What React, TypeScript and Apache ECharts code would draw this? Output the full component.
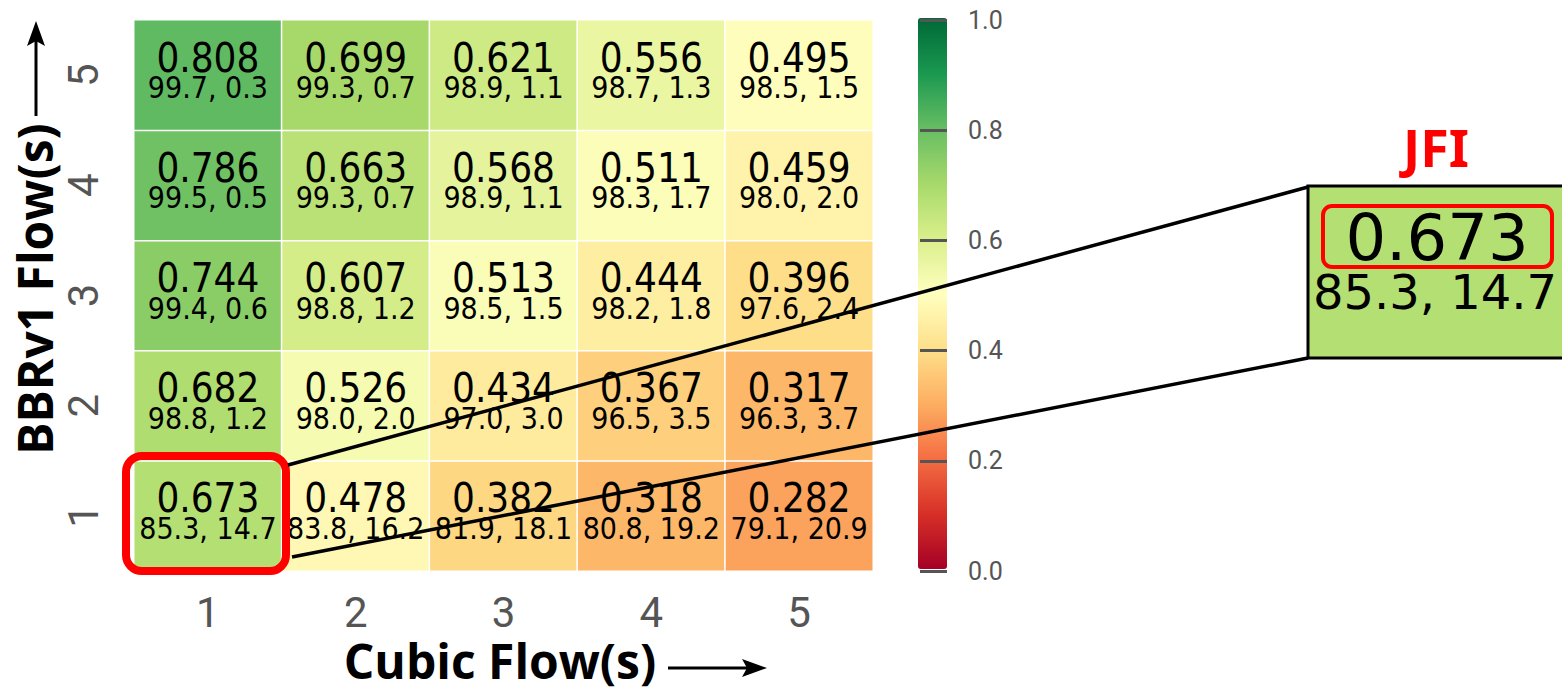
import React, { useEffect, useRef } from "react";
import * as echarts from "echarts";

const cubicFlows = ["1", "2", "3", "4", "5"];
const bbrFlows = ["1", "2", "3", "4", "5"];

// rows: BBRv1 flows 1..5, columns: Cubic flows 1..5
const jfi = [
  [0.673, 0.478, 0.382, 0.318, 0.282],
  [0.682, 0.526, 0.434, 0.367, 0.317],
  [0.744, 0.607, 0.513, 0.444, 0.396],
  [0.786, 0.663, 0.568, 0.511, 0.459],
  [0.808, 0.699, 0.621, 0.556, 0.495],
];
const bbrShare = [
  [85.3, 83.8, 81.9, 80.8, 79.1],
  [98.8, 98.0, 97.0, 96.5, 96.3],
  [99.4, 98.8, 98.5, 98.2, 97.6],
  [99.5, 99.3, 98.9, 98.3, 98.0],
  [99.7, 99.3, 98.9, 98.7, 98.5],
];
const cubicShare = [
  [14.7, 16.2, 18.1, 19.2, 20.9],
  [1.2, 2.0, 3.0, 3.5, 3.7],
  [0.6, 1.2, 1.5, 1.8, 2.4],
  [0.5, 0.7, 1.1, 1.7, 2.0],
  [0.3, 0.7, 1.1, 1.3, 1.5],
];
const colorbarTicks = [0, 0.2, 0.4, 0.6, 0.8, 1.0];

const palette = [
  "#a50026", "#d73027", "#f46d43", "#fdae61", "#fee08b", "#ffffbf",
  "#d9ef8b", "#a6d96a", "#66bd63", "#1a9850", "#006837",
];

const highlightRow = 0;
const highlightCol = 0;

export default function App() {
  const ref = useRef<HTMLDivElement>(null);
  useEffect(() => {
    if (!ref.current) return;
    const chart = echarts.init(ref.current, null, { renderer: "svg" });
    const data: any[] = [];
    for (let r = 0; r < bbrFlows.length; r++) {
      for (let c = 0; c < cubicFlows.length; c++) {
        data.push([c, r, jfi[r][c], bbrShare[r][c], cubicShare[r][c]]);
      }
    }
    const hv = jfi[highlightRow][highlightCol];
    let calloutFill = "#b3dd6f";
    try {
      calloutFill = (echarts as any).color.lerp(hv, palette) || calloutFill;
    } catch (e) {}
    const hs = `${bbrShare[highlightRow][highlightCol].toFixed(1)}, ${cubicShare[highlightRow][highlightCol].toFixed(1)}`;

    const option: any = {
      animation: false,
      backgroundColor: "#ffffff",
      grid: [
        { left: 134, top: 20, width: 739, height: 551 },
        { left: 920, top: 20, width: 27, height: 551, z: 20 },
      ],
      xAxis: [
        {
          type: "category",
          data: cubicFlows,
          gridIndex: 0,
          axisLine: { show: false },
          axisTick: { show: false },
          splitLine: { show: false },
          axisLabel: { fontSize: 42, fontFamily: "Roboto", color: "#555", margin: 20 },
        },
        { type: "value", gridIndex: 1, show: false, min: 0, max: 1 },
      ],
      yAxis: [
        {
          type: "category",
          data: bbrFlows,
          gridIndex: 0,
          axisLine: { show: false },
          axisTick: { show: false },
          splitLine: { show: false },
          axisLabel: { fontSize: 42, fontFamily: "Roboto", color: "#555", margin: 30, rotate: 90 },
        },
        {
          type: "value",
          gridIndex: 1,
          position: "right",
          min: 0,
          max: 1,
          interval: 0.2,
          z: 20,
          axisLine: { show: false },
          axisTick: { show: false },
          splitLine: { show: true, lineStyle: { color: "#555", width: 3 } },
          axisLabel: {
            margin: 21,
            fontSize: 25,
            fontFamily: "Roboto",
            color: "#555",
            formatter: (v: number) => (colorbarTicks.some((t) => Math.abs(t - v) < 1e-6) ? v.toFixed(1) : ""),
          },
        },
      ],
      visualMap: {
        type: "continuous",
        min: 0,
        max: 1,
        dimension: 2,
        seriesIndex: 0,
        calculable: false,
        orient: "vertical",
        left: 918,
        top: 18,
        padding: 0,
        z: 2,
        itemWidth: 29,
        itemHeight: 551,
        inRange: { color: palette },
        textStyle: { color: "transparent" },
      },
      series: [
        {
          type: "heatmap",
          xAxisIndex: 0,
          yAxisIndex: 0,
          data,
          itemStyle: { borderColor: "#ffffff", borderWidth: 1.5 },
          label: {
            show: true,
            offset: [0, -4],
            formatter: (p: any) =>
              `{a|${Number(p.data[2]).toFixed(3)}}\n{b|${Number(p.data[3]).toFixed(1)}, ${Number(p.data[4]).toFixed(1)}}`,
            rich: {
              a: { fontSize: 40, lineHeight: 33, fontFamily: "DejaVu Sans Condensed", color: "#000" },
              b: { fontSize: 30, lineHeight: 27, fontFamily: "DejaVu Sans Condensed", color: "#000" },
            },
          },
          emphasis: { disabled: true },
        },
      ],
      graphic: [
        {
          type: "text",
          x: 500,
          y: 660,
          z: 100,
          style: {
            text: "Cubic Flow(s)",
            font: "bold 48px 'Open Sans'",
            fill: "#000",
            textAlign: "center",
            textVerticalAlign: "middle",
          },
        },
        { type: "line", z: 100, shape: { x1: 668, y1: 668, x2: 760, y2: 668 }, style: { stroke: "#000", lineWidth: 3 } },
        { type: "polygon", z: 100, shape: { points: [[767, 668], [742, 659], [747, 668], [742, 677]] }, style: { fill: "#000" } },
        {
          type: "text",
          x: 34,
          y: 289,
          rotation: Math.PI / 2,
          z: 100,
          style: {
            text: "BBRv1 Flow(s)",
            font: "bold 48px 'Open Sans'",
            fill: "#000",
            textAlign: "center",
            textVerticalAlign: "middle",
          },
        },
        { type: "line", z: 100, shape: { x1: 36, y1: 116, x2: 36, y2: 28 }, style: { stroke: "#000", lineWidth: 3 } },
        { type: "polygon", z: 100, shape: { points: [[36, 21], [27, 46], [36, 41], [45, 46]] }, style: { fill: "#000" } },
        // highlight box
        {
          type: "rect",
          z: 100,
          shape: { x: 126, y: 456, width: 160, height: 115, r: 16 },
          style: { fill: "none", stroke: "#ff0000", lineWidth: 8 },
        },
        // connector lines
        { type: "line", z: 100, shape: { x1: 288, y1: 465, x2: 1308, y2: 187 }, style: { stroke: "#000", lineWidth: 3.5 } },
        { type: "line", z: 100, shape: { x1: 292, y1: 557, x2: 1308, y2: 358 }, style: { stroke: "#000", lineWidth: 3.5 } },
        // callout
        {
          type: "rect",
          z: 100,
          shape: { x: 1308, y: 186, width: 300, height: 172 },
          style: { fill: calloutFill, stroke: "#000", lineWidth: 3 },
        },
        {
          type: "rect",
          z: 101,
          shape: { x: 1323, y: 206, width: 229, height: 61, r: 9 },
          style: { fill: "none", stroke: "#ff0000", lineWidth: 4 },
        },
        {
          type: "text",
          x: 1437,
          y: 238,
          z: 101,
          style: {
            text: hv.toFixed(3),
            font: "64px 'DejaVu Sans'",
            fill: "#000",
            textAlign: "center",
            textVerticalAlign: "middle",
          },
        },
        {
          type: "text",
          x: 1435,
          y: 292,
          z: 101,
          style: {
            text: hs,
            font: "48px 'DejaVu Sans'",
            fill: "#000",
            textAlign: "center",
            textVerticalAlign: "middle",
          },
        },
        {
          type: "text",
          x: 1436,
          y: 146,
          z: 101,
          style: {
            text: "JFI",
            font: "bold 52px 'Noto Sans'",
            fill: "#ff0000",
            textAlign: "center",
            textVerticalAlign: "middle",
          },
        },
      ],
    };
    chart.setOption(option);
    return () => chart.dispose();
  }, []);
  return (
    <div
      ref={ref}
      style={{ position: "fixed", left: 0, top: 0, width: 1562, height: 691, background: "#fff" }}
    />
  );
}
